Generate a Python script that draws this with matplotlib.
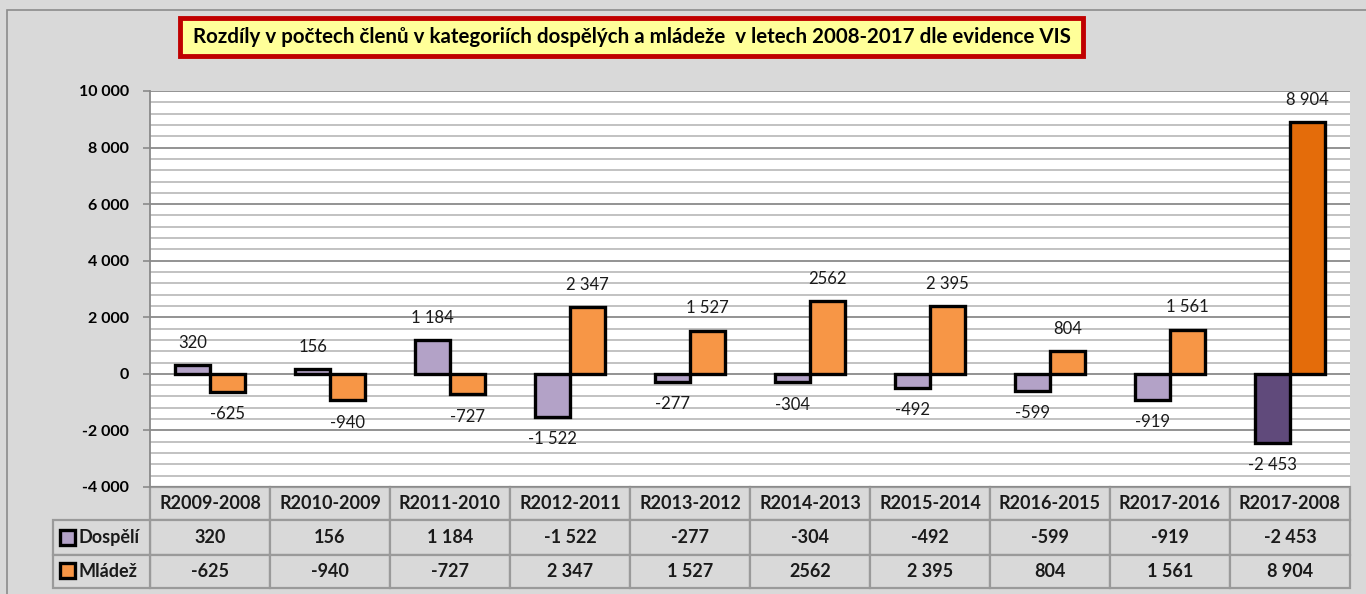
import matplotlib
matplotlib.use("Agg")
import matplotlib.pyplot as plt
import matplotlib.transforms as mtransforms
from matplotlib.patches import Rectangle
from matplotlib.ticker import MultipleLocator, FuncFormatter

plt.rcParams['font.family'] = ['Lato', 'DejaVu Sans']

# ---- data ----
kategorie = ["R2009-2008", "R2010-2009", "R2011-2010", "R2012-2011", "R2013-2012",
             "R2014-2013", "R2015-2014", "R2016-2015", "R2017-2016", "R2017-2008"]
dospeli = [320, 156, 1184, -1522, -277, -304, -492, -599, -919, -2453]
mladez = [-625, -940, -727, 2347, 1527, 2562, 2395, 804, 1561, 8904]
dospeli_txt = ["320", "156", "1 184", "-1 522", "-277", "-304", "-492", "-599", "-919", "-2 453"]
mladez_txt = ["-625", "-940", "-727", "2 347", "1 527", "2562", "2 395", "804", "1 561", "8 904"]
nazvy_rad = ["Dospělí", "Mládež"]
titulek = "Rozdíly v počtech členů v kategoriích dospělých a mládeže  v letech 2008-2017 dle evidence VIS"

# barvy
c_dosp = "#b3a2c7"
c_mlad = "#f79646"
c_dosp_last = "#604a7b"
c_mlad_last = "#e46c0a"
bg = "#d9d9d9"

W, H = 1366, 594
fig = plt.figure(figsize=(W / 100, H / 100), dpi=100, facecolor=bg)

# vnejsi ramecek grafu
fig.patches.append(Rectangle((7 / W, -0.1), 1.2, (H - 10) / H + 0.1, transform=fig.transFigure,
                             fill=False, ec="#8c8c8c", lw=1.2))

ax = fig.add_axes([150 / W, (H - 487) / H, 1200 / W, 396 / H])
ax.set_facecolor("white")

x = list(range(len(kategorie)))
sirka = 0.29
barvy_d = [c_dosp] * (len(x) - 1) + [c_dosp_last]
barvy_m = [c_mlad] * (len(x) - 1) + [c_mlad_last]
ax.bar([i - sirka / 2 for i in x], dospeli, width=sirka, color=barvy_d, edgecolor="black",
       linewidth=2.4, zorder=3)
ax.bar([i + sirka / 2 for i in x], mladez, width=sirka, color=barvy_m, edgecolor="black",
       linewidth=2.4, zorder=3)

# popisky hodnot
for i in x:
    for val, txt, dx in ((dospeli[i], dospeli_txt[i], -sirka / 2), (mladez[i], mladez_txt[i], sirka / 2)):
        off = 16 if val >= 0 else -16
        ax.annotate(txt, (i + dx, val), xytext=(0, off), textcoords="offset points",
                    ha="center", va="center", fontsize=12, color="#1a1a1a", zorder=4)

ax.set_xlim(-0.5, len(x) - 0.5)
ax.set_ylim(-4000, 10000)
ax.yaxis.set_major_locator(MultipleLocator(2000))
ax.yaxis.set_minor_locator(MultipleLocator(400))
ax.yaxis.set_major_formatter(FuncFormatter(lambda v, p: f"{int(v):,}".replace(",", " ")))
ax.grid(which="minor", axis="y", color="#bdbdbd", lw=1.3, zorder=1)
ax.grid(which="major", axis="y", color="#8a8a8a", lw=1.3, zorder=1)
ax.set_xticks([])
ax.tick_params(axis="y", which="major", length=5, color="#8a8a8a", width=1.2, pad=10,
               labelsize=11.5)
ax.tick_params(axis="y", which="minor", length=0)
for lab in ax.get_yticklabels():
    lab.set_fontweight("bold")
for s in ("top", "right", "bottom"):
    ax.spines[s].set_visible(False)
ax.spines["left"].set_color("#8a8a8a")
ax.spines["left"].set_linewidth(1.3)

# datova tabulka pod grafem (x v datech, y v osach)
trans = mtransforms.blended_transform_factory(ax.transData, ax.transAxes)
px = 1 / 396
radky = [(0, 33), (33, 68), (68, 101)]  # pixely pod osou
bunka = dict(fill=True, fc=bg, ec="#9a9a9a", lw=1.6, transform=trans, clip_on=False)
hodnoty = [kategorie, dospeli_txt, mladez_txt]
for r, (y0, y1) in enumerate(radky):
    yb = -y1 * px
    h = (y1 - y0) * px
    for i in x:
        ax.add_patch(Rectangle((i - 0.5, yb), 1, h, **bunka))
        ax.text(i, yb + h / 2, hodnoty[r][i], transform=trans, ha="center", va="center",
                fontsize=13, fontweight="bold", color="#1a1a1a")
    if r > 0:
        lx = -0.5 - 97 / 120
        ax.add_patch(Rectangle((lx, yb), 97 / 120, h, **bunka))
        barva = c_dosp if r == 1 else c_mlad
        ax.add_patch(Rectangle((lx + 7 / 120, yb + 10 * px), 15 / 120, 15 * px, fc=barva,
                               ec="black", lw=2.4, transform=trans, clip_on=False))
        ax.text(lx + 25 / 120, yb + h / 2, nazvy_rad[r - 1], transform=trans, ha="left",
                va="center", fontsize=13, fontweight="bold", color="#1a1a1a")

# titulek v ramecku
fig.patches.append(Rectangle((180 / W, (H - 56) / H), 903 / W, 38 / H, transform=fig.transFigure,
                             fc="#ffff99", ec="#c00000", lw=3.5))
fig.text(631.5 / W, (H - 37) / H, titulek, ha="center", va="center", fontsize=14.8,
         fontweight="bold", color="black")

fig.savefig("out.png", dpi=100, facecolor=bg)
